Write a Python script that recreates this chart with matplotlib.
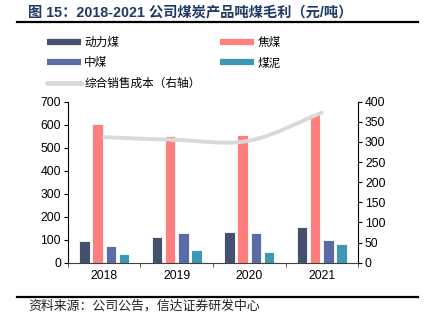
import matplotlib
matplotlib.use("Agg")
import matplotlib.pyplot as plt
from matplotlib.lines import Line2D
from matplotlib.path import Path
from matplotlib.patches import PathPatch
import numpy as np

plt.rcParams['font.family'] = ['Liberation Sans', 'Noto Sans CJK SC', 'DejaVu Sans']

# Gross profit per ton by coal product (yuan/ton)
years = ['2018', '2019', '2020', '2021']
steam_coal = [96, 112, 135, 154]
coking_coal = [601, 552, 554, 647]
middlings = [73, 130, 128, 100]
slime = [39, 55, 45, 81]
# Blended unit cost of sales (right axis)
unit_cost = [312, 305, 303, 373]

series_names = ['动力煤', '焦煤', '中煤', '煤泥']
cost_name = '综合销售成本（右轴）'
colors = ['#45506E', '#FF7F7F', '#5B6BA3', '#3E97B5']
line_color = '#D9D9D9'

fig = plt.figure(figsize=(4.26, 3.22), dpi=100)
ax = fig.add_axes([0.1596, 0.1842, 0.6808, 0.5000])
ax2 = ax.twinx()

x = np.arange(len(years))
width = 0.145
step = 0.18
for i, (vals, c) in enumerate(zip([steam_coal, coking_coal, middlings, slime], colors)):
    ax.bar(x + (i - 1.5) * step, vals, width, color=c, edgecolor='white',
           linewidth=0.6, zorder=2)

tick_fs = 8.7
ax.set_xlim(-0.5, len(years) - 0.5)
ax.set_ylim(0, 700)
ax.set_yticks(range(0, 701, 100))
ax.set_xticks(x)
ax.set_xticklabels(years)
ax.set_xticks(np.arange(-0.5, len(years), 1.0), minor=True)
ax.tick_params(axis='x', which='major', length=0, pad=5, labelsize=tick_fs)
ax.tick_params(axis='x', which='minor', length=3, direction='out', color='#404040')
ax.tick_params(axis='y', length=3, direction='out', labelsize=tick_fs, pad=2)

# Smoothed cost line built from cubic Bezier segments through the data points
ax2.set_ylim(0, 400)
ax2.set_yticks(range(0, 401, 50))
ax2.tick_params(axis='y', length=3, direction='out', labelsize=tick_fs, pad=2)
pts = np.column_stack([x.astype(float), np.array(unit_cost, dtype=float)])
verts = [tuple(pts[0])]
codes = [Path.MOVETO]
n = len(pts)
for i in range(n - 1):
    p0 = pts[i - 1] if i > 0 else pts[i]
    p1 = pts[i]
    p2 = pts[i + 1]
    p3 = pts[i + 2] if i + 2 < n else pts[i + 1]
    c1 = p1 + (p2 - p0) / 6.0
    c2 = p2 - (p3 - p1) / 6.0
    verts += [tuple(c1), tuple(c2), tuple(p2)]
    codes += [Path.CURVE4] * 3
ax2.add_patch(PathPatch(Path(verts, codes), facecolor='none', edgecolor=line_color,
                        linewidth=2.8, capstyle='round', zorder=3))

for a in (ax, ax2):
    a.spines['top'].set_visible(False)
ax.spines['right'].set_visible(False)
ax.spines['left'].set_color('black')
ax.spines['bottom'].set_color('#404040')
ax2.spines['left'].set_visible(False)
ax2.spines['bottom'].set_visible(False)
ax2.spines['right'].set_color('black')

# Legend laid out in two columns above the plot
handles = [
    Line2D([], [], color=colors[0], lw=4.5, solid_capstyle='butt'),
    Line2D([], [], color=colors[2], lw=4.5, solid_capstyle='butt'),
    Line2D([], [], color=line_color, lw=3.5, solid_capstyle='round'),
    Line2D([], [], color=colors[1], lw=4.5, solid_capstyle='butt'),
    Line2D([], [], color=colors[3], lw=4.5, solid_capstyle='butt'),
]
labels = [series_names[0], series_names[2], cost_name, series_names[1], series_names[3]]
fig.legend(handles, labels, ncol=2, loc='upper left', bbox_to_anchor=(0.110, 0.885),
           frameon=False, fontsize=8.4, handlelength=2.9, handletextpad=0.3,
           columnspacing=1.7, labelspacing=0.72, borderaxespad=0, borderpad=0)

# Title, rules and source note
fig.text(0.066, 0.962, '图 15：2018-2021 公司煤炭产品吨煤毛利（元/吨）', fontsize=10.3,
         fontweight='bold', color='#1F3A66', va='center', ha='left')
fig.add_artist(Line2D([0.040, 0.981], [0.932, 0.932], color='black', lw=1.6))
fig.add_artist(Line2D([0.040, 0.981], [0.077, 0.077], color='black', lw=1.6))
fig.text(0.066, 0.050, '资料来源：公司公告，信达证券研发中心', fontsize=9.3,
         color='#222222', va='center', ha='left', style='italic')

fig.savefig('out.png', dpi=100)
